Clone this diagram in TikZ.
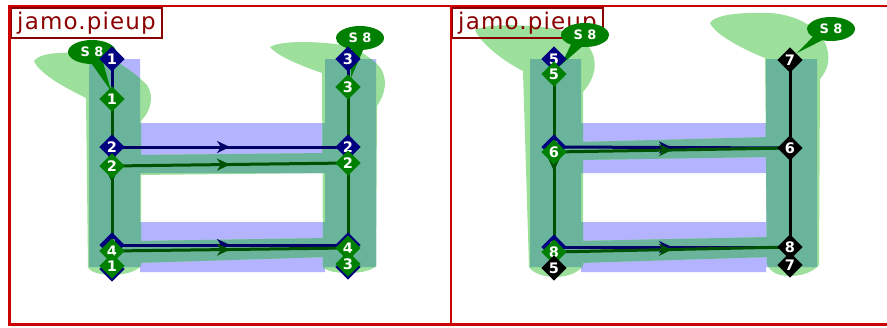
\documentclass[tikz,border=0pt]{standalone}
\usepackage{fontspec}
\setmainfont{DejaVu Sans}
\usetikzlibrary{shapes.geometric,shapes.callouts,arrows.meta,decorations.markings}
\definecolor{gblue}{HTML}{B3B3FF}
\definecolor{ggreen}{HTML}{9CE09C}
\definecolor{gteal}{HTML}{6AB49B}
\definecolor{navyc}{HTML}{000080}
\definecolor{navyl}{HTML}{000066}
\definecolor{greenc}{HTML}{008000}
\definecolor{greenl}{HTML}{005200}
\definecolor{framered}{HTML}{CC0000}
\definecolor{labelred}{HTML}{8B0000}
\tikzset{
  pt/.style={diamond, minimum width=25.5pt, minimum height=25.5pt, inner sep=0pt,
    font=\fontsize{14.5}{14.5}\selectfont\bfseries, text=white},
  bpt/.style={pt, fill=navyc},
  gpt/.style={pt, fill=greenc},
  kpt/.style={pt, fill=black},
  midarrow/.style={postaction={decorate}, decoration={markings,
    mark=at position 0.5 with {\arrow{Stealth[length=13pt,width=12pt,inset=4pt]}}}},
  bl/.style={navyl, line width=3pt, midarrow},
  gl/.style={greenl, line width=3pt, midarrow},
  kl/.style={black, line width=3pt},
  sbubble/.style={ellipse callout, fill=greenc, text=white, minimum width=48pt,
    minimum height=24pt, inner sep=0pt, callout pointer arc=28,
    font=\fontsize{13}{13}\selectfont\bfseries},
  labelbox/.style={draw=labelred, line width=2pt, text=labelred, inner sep=0pt,
    font=\fontsize{23}{23}\selectfont\addfontfeatures{LetterSpace=5}},
  frame/.style={draw=framered, line width=2.5pt}
}
\begin{document}
\begin{tikzpicture}[x=1pt,y=-1pt]
\useasboundingbox (0,0) rectangle (887,327);
\fill[white] (0,0) rectangle (887,327);

% ---------- glyph fills: blue (both panels) ----------
\foreach \dx in {0,441}{
  \fill[gblue] (89+\dx,59) rectangle (140+\dx,267)
               (325+\dx,59) rectangle (376+\dx,267)
               (140+\dx,123) rectangle (325+\dx,173)
               (140+\dx,222) rectangle (325+\dx,272);
}
% ---------- green glyph pieces ----------
\def\greenL{
  \fill (34,61) .. controls (40,52) and (65,52) .. (92,53)
     .. controls (105,54) and (128,66) .. (147,85)
     .. controls (155,97) and (150,112) .. (141,121)
     -- (141,266) .. controls (135,273) and (120,275) .. (112,275)
     .. controls (100,275) and (90,272) .. (88,267)
     -- (86,98) .. controls (70,90) and (40,75) .. (34,61) -- cycle;
  \fill (270,47) .. controls (280,41) and (310,41) .. (335,44)
     .. controls (350,45) and (366,53) .. (379,66)
     .. controls (389,78) and (385,95) .. (377,106)
     -- (376,266) .. controls (370,272) and (356,273) .. (348,273)
     .. controls (336,273) and (326,271) .. (323,267)
     -- (322,73) .. controls (305,67) and (278,57) .. (270,47) -- cycle;
  \fill (135,155) -- (328,153) -- (328,173) -- (135,175) -- cycle;
  \fill (135,241) -- (328,238) -- (328,257) -- (135,263) -- cycle;
  \fill (475,30) .. controls (485,24) and (520,24) .. (550,28)
     .. controls (575,32) and (590,42) .. (594,58)
     .. controls (597,72) and (590,84) .. (583,92)
     -- (583,266) .. controls (577,274) and (565,277) .. (555,277)
     .. controls (543,277) and (533,273) .. (529,267)
     -- (523,71) .. controls (505,62) and (482,45) .. (475,30) -- cycle;
  \fill (710,23) .. controls (715,14) and (745,12) .. (770,13)
     .. controls (800,15) and (822,30) .. (827,48)
     .. controls (831,62) and (826,72) .. (820,79)
     -- (819,265) .. controls (812,273) and (800,276) .. (790,276)
     .. controls (778,276) and (770,272) .. (767,264)
     -- (765,58) .. controls (745,50) and (715,35) .. (710,23) -- cycle;
  \fill (578,142) -- (770,137) -- (770,157) -- (578,160) -- cycle;
  \fill (578,241) -- (770,237) -- (770,257) -- (578,263) -- cycle;
}
\begin{scope}[ggreen]\greenL\end{scope}
\begin{scope}
  \clip (89,59) rectangle (140,267) (325,59) rectangle (376,267)
        (140,123) rectangle (325,173) (140,222) rectangle (325,272)
        (530,59) rectangle (581,267) (766,59) rectangle (817,267)
        (581,123) rectangle (766,173) (581,222) rectangle (766,272);
  \begin{scope}[gteal]\greenL\end{scope}
\end{scope}

% ---------- labels ----------
\node[labelbox, minimum width=151pt, minimum height=30pt] (labL) at (86.5,23) {jamo.pieup};
\node[labelbox, minimum width=151pt, minimum height=30pt] (labR) at (527.5,23) {jamo.pieup};

% ---------- point coordinates ----------
% left panel, blue
\coordinate (Lb1) at (112,59);  \coordinate (Lb1e) at (112,269);
\coordinate (Lb2) at (112,147); \coordinate (Lb2e) at (348,147);
\coordinate (Lb3) at (348,59);  \coordinate (Lb3e) at (348,267);
\coordinate (Lb4) at (112,245); \coordinate (Lb4e) at (348,245);
% left panel, green
\coordinate (Lg1) at (112,99);  \coordinate (Lg1e) at (112,266);
\coordinate (Lg2) at (112,166); \coordinate (Lg2e) at (348,163);
\coordinate (Lg3) at (348,87);  \coordinate (Lg3e) at (348,264);
\coordinate (Lg4) at (112,251); \coordinate (Lg4e) at (348,248);
% right panel
\coordinate (Rb5) at (554,59);  \coordinate (Rg5) at (554,74);
\coordinate (Rb6) at (554,147); \coordinate (Rg6) at (554,152);
\coordinate (Rb8) at (554,247); \coordinate (Rg8) at (554,252);
\coordinate (Rk5) at (554,268);
\coordinate (Rk7) at (790,60);  \coordinate (Rk7e) at (790,265);
\coordinate (Rk6) at (790,148); \coordinate (Rk8) at (790,247);
% callout targets
\coordinate (tL1) at (111,91);
\coordinate (tL3) at (351,78);
\coordinate (tR5) at (561,65);
\coordinate (tR7) at (797,53);

% ---------- strokes ----------
\draw[bl] (Lb1) -- (Lb1e);
\draw[bl] (Lb3) -- (Lb3e);
\draw[bl] (Lb2) -- (Lb2e);
\draw[bl] (Lb4) -- (Lb4e);
\draw[gl] (Lg1) -- (Lg1e);
\draw[gl] (Lg3) -- (Lg3e);
\draw[gl] (Lg2) -- (Lg2e);
\draw[gl] (Lg4) -- (Lg4e);

\draw[bl] (Rb5) -- (Rk5);
\draw[bl] (Rb6) -- (Rk6);
\draw[bl] (Rb8) -- (Rk8);
\draw[gl] (Rg5) -- (Rk5);
\draw[gl] (Rg6) -- (Rk6);
\draw[gl] (Rg8) -- (Rk8);
\draw[kl] (Rk7) -- (Rk7e);

% ---------- S 8 bubbles ----------
\node[sbubble, callout absolute pointer={(tL1)}] (sL1) at (92,52) {S 8};
\node[sbubble, callout absolute pointer={(tL3)}] (sL3) at (360,38) {S 8};
\node[sbubble, callout absolute pointer={(tR5)}] (sR5) at (585,35) {S 8};
\node[sbubble, callout absolute pointer={(tR7)}] (sR7) at (831,29) {S 8};

% ---------- point markers ----------
\node[bpt] (nLb1) at (Lb1) {1};
\node[bpt] (nLb1e) at (Lb1e) {1};
\node[bpt] (nLb2) at (Lb2) {2};
\node[bpt] (nLb2e) at (Lb2e) {2};
\node[bpt] (nLb3) at (Lb3) {3};
\node[bpt] (nLb3e) at (Lb3e) {3};
\node[bpt] (nLb4) at (Lb4) {4};
\node[bpt] (nLb4e) at (Lb4e) {4};
\node[gpt] (nLg2) at (Lg2) {2};
\node[gpt] (nLg2e) at (Lg2e) {2};
\node[gpt] (nLg4) at (Lg4) {4};
\node[gpt] (nLg4e) at (Lg4e) {4};
\node[gpt] (nLg1) at (Lg1) {1};
\node[gpt] (nLg1e) at (Lg1e) {1};
\node[gpt] (nLg3) at (Lg3) {3};
\node[gpt] (nLg3e) at (Lg3e) {3};

\node[bpt] (nRb5) at (Rb5) {5};
\node[bpt] (nRb6) at (Rb6) {6};
\node[bpt] (nRb8) at (Rb8) {8};
\node[gpt] (nRg5) at (Rg5) {5};
\node[gpt] (nRg6) at (Rg6) {6};
\node[gpt] (nRg8) at (Rg8) {8};
\node[kpt] (nRk5) at (Rk5) {5};
\node[kpt] (nRk7) at (Rk7) {7};
\node[kpt] (nRk6) at (Rk6) {6};
\node[kpt] (nRk8) at (Rk8) {8};
\node[kpt] (nRk7e) at (Rk7e) {7};

% ---------- frames ----------
\draw[frame] (9.5,6) rectangle (451,324.5);
\draw[frame] (451,6) rectangle (895,324.5);
\end{tikzpicture}
\end{document}
